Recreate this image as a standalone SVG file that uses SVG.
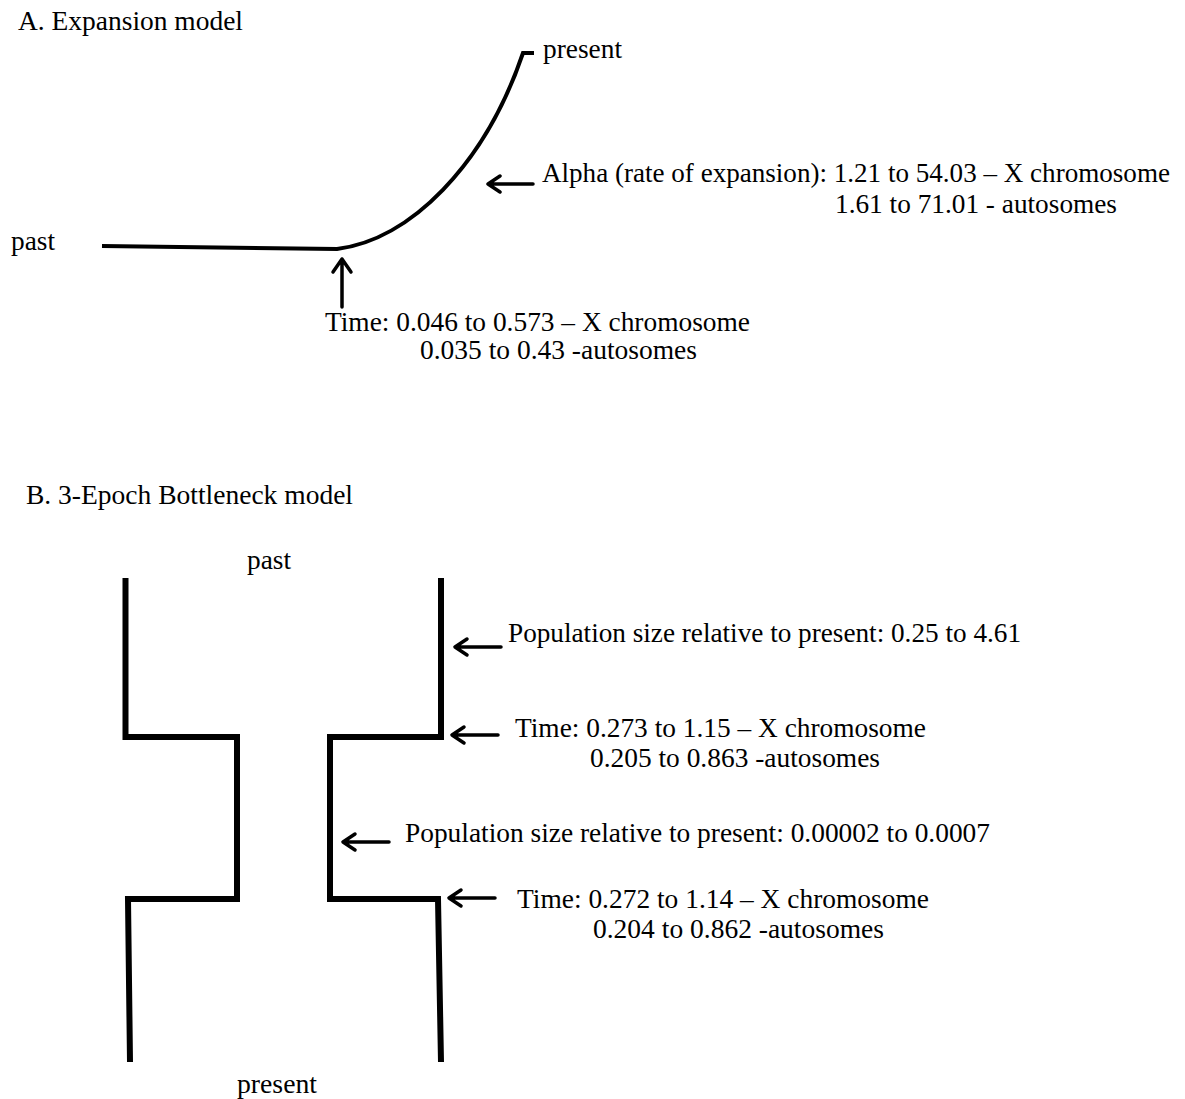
<svg xmlns="http://www.w3.org/2000/svg" width="1185" height="1099" viewBox="0 0 1185 1099">
<style>
text{font-family:"Liberation Serif","Times New Roman",serif;font-size:27px;fill:#000}
.ln{fill:none;stroke:#000;stroke-linecap:butt;stroke-linejoin:miter}
.ar{fill:none;stroke:#000;stroke-width:3.5;stroke-linecap:round;stroke-linejoin:round}
</style>
<rect width="1185" height="1099" fill="#fff"/>
<g id="titleA"><text x="18" y="30" textLength="225" lengthAdjust="spacingAndGlyphs">A. Expansion model</text></g>
<g id="titleB"><text x="26" y="504" textLength="327" lengthAdjust="spacingAndGlyphs">B. 3-Epoch Bottleneck model</text></g>
<g id="expansion-curve">
<path class="ln" stroke-width="4" d="M102,246 L337,249 C410,240 485,165 523,53 L534,53"/>
<text x="11" y="250" textLength="44" lengthAdjust="spacingAndGlyphs">past</text>
<text x="543" y="58" textLength="79" lengthAdjust="spacingAndGlyphs">present</text>
</g>
<g id="alpha-label">
<text x="542" y="182" textLength="628" lengthAdjust="spacingAndGlyphs">Alpha (rate of expansion): 1.21 to 54.03 – X chromosome</text>
<text x="835" y="213" textLength="282" lengthAdjust="spacingAndGlyphs">1.61 to 71.01 - autosomes</text>
</g>
<g id="timeA-label">
<text x="325" y="331" textLength="425" lengthAdjust="spacingAndGlyphs">Time: 0.046 to 0.573 – X chromosome</text>
<text x="420" y="359" textLength="277" lengthAdjust="spacingAndGlyphs">0.035 to 0.43 -autosomes</text>
</g>
<g id="bottleneck">
<path class="ln" stroke-width="6" d="M125.5,578 L125.5,737 L237,737 L237,899 L128,899 L130,1062"/>
<path class="ln" stroke-width="6" d="M441,578 L441,737 L330,737 L330,899 L438,899 L441,1062"/>
<text x="247" y="569" textLength="44" lengthAdjust="spacingAndGlyphs">past</text>
<text x="237" y="1093" textLength="80" lengthAdjust="spacingAndGlyphs">present</text>
</g>
<g id="popB1-label"><text x="508" y="642" textLength="513" lengthAdjust="spacingAndGlyphs">Population size relative to present: 0.25 to 4.61</text></g>
<g id="timeB1-label">
<text x="515" y="737" textLength="411" lengthAdjust="spacingAndGlyphs">Time: 0.273 to 1.15 – X chromosome</text>
<text x="590" y="767" textLength="290" lengthAdjust="spacingAndGlyphs">0.205 to 0.863 -autosomes</text>
</g>
<g id="popB2-label"><text x="405" y="842" textLength="585" lengthAdjust="spacingAndGlyphs">Population size relative to present: 0.00002 to 0.0007</text></g>
<g id="timeB2-label">
<text x="517" y="908" textLength="412" lengthAdjust="spacingAndGlyphs">Time: 0.272 to 1.14 – X chromosome</text>
<text x="593" y="938" textLength="291" lengthAdjust="spacingAndGlyphs">0.204 to 0.862 -autosomes</text>
</g>
<g id="connectors">
<path class="ar" d="M342,307 L342,259 M333,272 L342,259 L351,272"/>
<path class="ar" d="M533,184 L488,184 M500,176 L488,184 L500,192"/>
<path class="ar" d="M501,647 L455,647 M467,639 L455,647 L467,655"/>
<path class="ar" d="M498,735 L452,735 M464,727 L452,735 L464,743"/>
<path class="ar" d="M389,842 L343,842 M355,834 L343,842 L355,850"/>
<path class="ar" d="M495,898 L449,898 M461,890 L449,898 L461,906"/>
</g>
</svg>
